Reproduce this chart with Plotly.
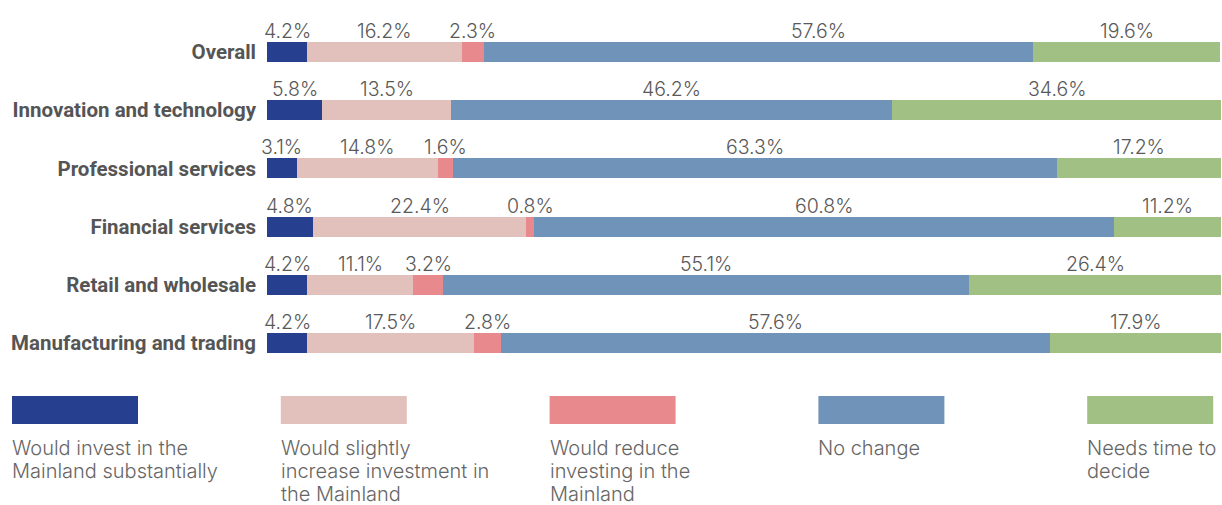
import plotly.graph_objects as go

# Survey responses by sector (percent of respondents)
categories = [
    "Overall",
    "Innovation and technology",
    "Professional services",
    "Financial services",
    "Retail and wholesale",
    "Manufacturing and trading",
]
series_names = [
    "Would invest in the<br>Mainland substantially",
    "Would slightly<br>increase investment in<br>the Mainland",
    "Would reduce<br>investing in the<br>Mainland",
    "No change",
    "Needs time to<br>decide",
]
invest_substantially = [4.2, 5.8, 3.1, 4.8, 4.2, 4.2]
increase_slightly = [16.2, 13.5, 14.8, 22.4, 11.1, 17.5]
reduce_investing = [2.3, None, 1.6, 0.8, 3.2, 2.8]
no_change = [57.6, 46.2, 63.3, 60.8, 55.1, 57.6]
needs_time = [19.6, 34.6, 17.2, 11.2, 26.4, 17.9]

series_values = [invest_substantially, increase_slightly, reduce_investing, no_change, needs_time]
colors = ["#263F8E", "#E2C0BB", "#E8898D", "#6F93B9", "#A1C083"]

W, H = 1222, 505
ML, MR, MT, MB = 267, 1, 23, 133
PW, PH = W - ML - MR, H - MT - MB


def px_x(x):
    return (x - ML) / PW


def px_y(y):
    return (H - MB - y) / PH


fig = go.Figure()
for name, vals, col in zip(series_names, series_values, colors):
    fig.add_trace(go.Bar(
        y=categories,
        x=[v if v is not None else 0 for v in vals],
        orientation="h",
        name=name.replace("<br>", " "),
        marker=dict(color=col, line=dict(width=0)),
        width=0.344,
        hoverinfo="skip",
        showlegend=False,
    ))

# Value labels above each segment
annotations = []
for ci, cat in enumerate(categories):
    start = 0.0
    for si, vals in enumerate(series_values):
        v = vals[ci]
        if v is None:
            continue
        shift = 60 if (cat == "Overall" and si == 3) else 0
        annotations.append(dict(
            x=start + v / 2, y=cat, xref="x", yref="y",
            text=f"{v:.1f}%", showarrow=False,
            yanchor="bottom", yshift=7, xshift=shift,
            font=dict(family="Inter", size=19.5, color="#595959", weight=300),
        ))
        start += v

# Legend: swatches with wrapped captions underneath (one annotation per line)
shapes = []
for i, (name, col) in enumerate(zip(series_names, colors)):
    x0 = 12 + i * 268.8
    shapes.append(dict(
        type="rect", xref="paper", yref="paper",
        x0=px_x(x0), x1=px_x(x0 + 126), y0=px_y(396), y1=px_y(424),
        fillcolor=col, line=dict(width=0),
    ))
    for li, line in enumerate(name.split("<br>")):
        annotations.append(dict(
            x=px_x(x0 - 2), y=px_y(448 + 23 * li), xref="paper", yref="paper",
            text=line, showarrow=False, align="left",
            xanchor="left", yanchor="middle",
            font=dict(family="Inter", size=20, color="#666666", weight=300),
        ))

fig.update_layout(
    width=W, height=H,
    margin=dict(l=ML, r=MR, t=MT, b=MB, pad=0),
    barmode="stack",
    plot_bgcolor="white", paper_bgcolor="white",
    xaxis=dict(range=[0, 100], visible=False, fixedrange=True),
    yaxis=dict(
        autorange=False, range=[5.5, -0.5],
        showgrid=False, zeroline=False, showline=False, ticks="",
        ticklabelstandoff=10,
        tickfont=dict(family="Roboto", size=20.5, color="#555555", weight="bold"),
    ),
    annotations=annotations,
    shapes=shapes,
)

fig.write_html("out.html")
